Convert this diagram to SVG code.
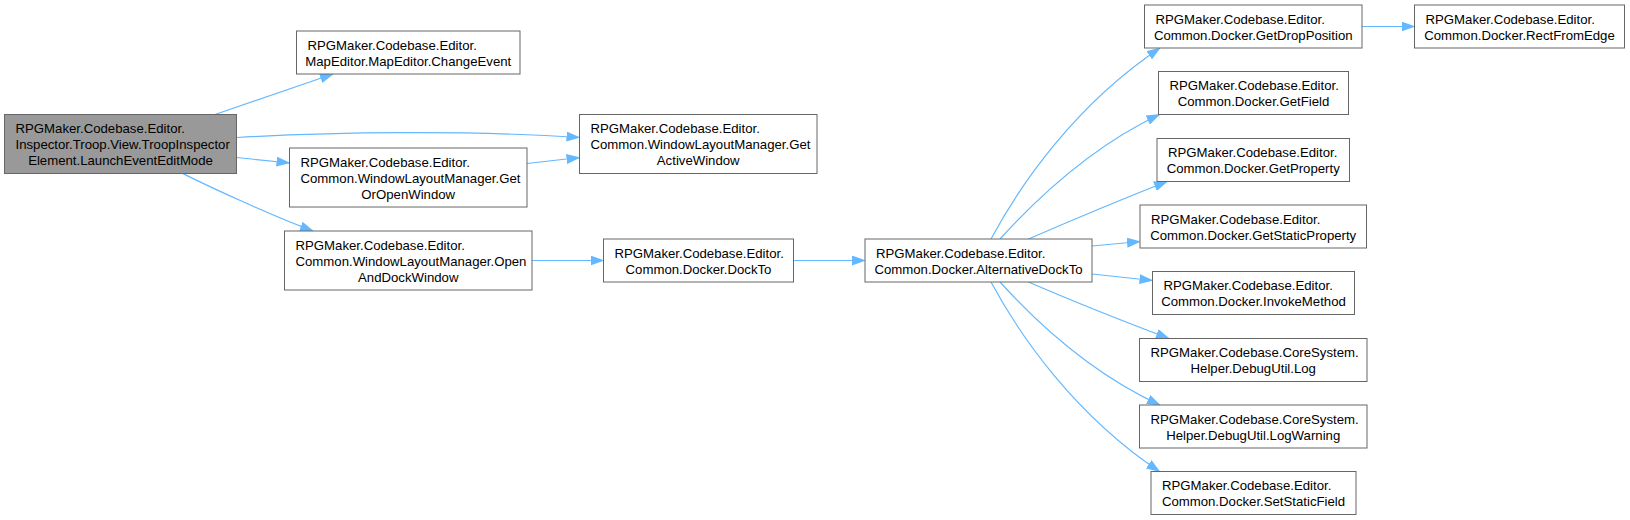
<svg xmlns="http://www.w3.org/2000/svg" width="1630" height="520" viewBox="0 0 1630 520">
<style>
.box{fill:#ffffff;stroke:#666666;stroke-width:1}
.main{fill:#999999;stroke:#666666;stroke-width:1}
text{font-family:"Liberation Sans",Arial,sans-serif;font-size:13.2px;fill:#000000}
.c{text-anchor:middle}
.e{fill:none;stroke:#63b8ff;stroke-width:1.2;marker-end:url(#ah)}
</style>
<defs>
<marker id="ah" markerWidth="14" markerHeight="10" refX="13" refY="5" orient="auto" markerUnits="userSpaceOnUse" viewBox="0 0 14 10">
<path d="M0,0 L14,5 L0,10 z" fill="#63b8ff"/>
</marker>
</defs>
<rect width="1630" height="520" fill="#ffffff"/>
<g id="connectors">
<path class="e" d="M215,114.5 L333,74"/>
<path class="e" d="M237,137.5 C330,132 470,130 579.5,137.5"/>
<path class="e" d="M237,157.5 L289.5,163"/>
<path class="e" d="M527,163.5 L579.5,157.5"/>
<path class="e" d="M183,173.6 C210,187 270,215 313,231"/>
<path class="e" d="M532,260.5 L603.5,260.5"/>
<path class="e" d="M793.5,260.5 L865,260.5"/>
<path class="e" d="M1362,26.5 L1414.5,26.5"/>
<path class="e" d="M991,239 C1020,185 1075,105 1160,48"/>
<path class="e" d="M1000,239 C1040,195 1095,145 1159.5,114.5"/>
<path class="e" d="M1028.5,239 C1070,221 1120,200 1167,181.5"/>
<path class="e" d="M1092,246 L1140,241.5"/>
<path class="e" d="M1092,274 L1152.5,280.5"/>
<path class="e" d="M1028.5,282 C1070,300 1120,320 1169,338.5"/>
<path class="e" d="M1000,282 C1040,326 1095,375 1160,405"/>
<path class="e" d="M991,282 C1020,336 1075,415 1159.5,471.5"/>
</g>
<g id="n1">
<rect class="main" x="4.5" y="114.5" width="232" height="59"/>
<text x="15.5" y="133">RPGMaker.Codebase.Editor.</text>
<text x="15.5" y="149">Inspector.Troop.View.TroopInspector</text>
<text class="c" x="120.5" y="165">Element.LaunchEventEditMode</text>
</g>
<g id="n2">
<rect class="box" x="296.5" y="31" width="223.5" height="43"/>
<text x="307.5" y="49.5">RPGMaker.Codebase.Editor.</text>
<text class="c" x="408.25" y="65.5">MapEditor.MapEditor.ChangeEvent</text>
</g>
<g id="n3">
<rect class="box" x="579.5" y="114.5" width="237.5" height="59"/>
<text x="590.5" y="133">RPGMaker.Codebase.Editor.</text>
<text x="590.5" y="149">Common.WindowLayoutManager.Get</text>
<text class="c" x="698.25" y="165">ActiveWindow</text>
</g>
<g id="n4">
<rect class="box" x="289.5" y="148" width="237.5" height="59"/>
<text x="300.5" y="166.5">RPGMaker.Codebase.Editor.</text>
<text x="300.5" y="182.5">Common.WindowLayoutManager.Get</text>
<text class="c" x="408.25" y="198.5">OrOpenWindow</text>
</g>
<g id="n5">
<rect class="box" x="284.5" y="231" width="247.5" height="59"/>
<text x="295.5" y="249.5">RPGMaker.Codebase.Editor.</text>
<text x="295.5" y="265.5">Common.WindowLayoutManager.Open</text>
<text class="c" x="408.25" y="281.5">AndDockWindow</text>
</g>
<g id="n6">
<rect class="box" x="603.5" y="239" width="190" height="43"/>
<text x="614.5" y="257.5">RPGMaker.Codebase.Editor.</text>
<text class="c" x="698.5" y="273.5">Common.Docker.DockTo</text>
</g>
<g id="n7">
<rect class="box" x="865" y="239" width="227" height="43"/>
<text x="876" y="257.5">RPGMaker.Codebase.Editor.</text>
<text class="c" x="978.5" y="273.5">Common.Docker.AlternativeDockTo</text>
</g>
<g id="n8">
<rect class="box" x="1144.5" y="5" width="217.5" height="43"/>
<text x="1155.5" y="23.5">RPGMaker.Codebase.Editor.</text>
<text class="c" x="1253.25" y="39.5">Common.Docker.GetDropPosition</text>
</g>
<g id="n9">
<rect class="box" x="1414.5" y="5" width="210" height="43"/>
<text x="1425.5" y="23.5">RPGMaker.Codebase.Editor.</text>
<text class="c" x="1519.5" y="39.5">Common.Docker.RectFromEdge</text>
</g>
<g id="n10">
<rect class="box" x="1158.5" y="71.5" width="190" height="43"/>
<text x="1169.5" y="90">RPGMaker.Codebase.Editor.</text>
<text class="c" x="1253.5" y="106">Common.Docker.GetField</text>
</g>
<g id="n11">
<rect class="box" x="1157" y="138.5" width="192.5" height="43"/>
<text x="1168" y="157">RPGMaker.Codebase.Editor.</text>
<text class="c" x="1253.25" y="173">Common.Docker.GetProperty</text>
</g>
<g id="n12">
<rect class="box" x="1140" y="205" width="226.5" height="43"/>
<text x="1151" y="223.5">RPGMaker.Codebase.Editor.</text>
<text class="c" x="1253.25" y="239.5">Common.Docker.GetStaticProperty</text>
</g>
<g id="n13">
<rect class="box" x="1152.5" y="271.5" width="202" height="43"/>
<text x="1163.5" y="290">RPGMaker.Codebase.Editor.</text>
<text class="c" x="1253.5" y="306">Common.Docker.InvokeMethod</text>
</g>
<g id="n14">
<rect class="box" x="1139.5" y="338.5" width="227.5" height="43"/>
<text x="1150.5" y="357">RPGMaker.Codebase.CoreSystem.</text>
<text class="c" x="1253.25" y="373">Helper.DebugUtil.Log</text>
</g>
<g id="n15">
<rect class="box" x="1139.5" y="405" width="227.5" height="43"/>
<text x="1150.5" y="423.5">RPGMaker.Codebase.CoreSystem.</text>
<text class="c" x="1253.25" y="439.5">Helper.DebugUtil.LogWarning</text>
</g>
<g id="n16">
<rect class="box" x="1151" y="471.5" width="205" height="43"/>
<text x="1162" y="490">RPGMaker.Codebase.Editor.</text>
<text class="c" x="1253.5" y="506">Common.Docker.SetStaticField</text>
</g>
</svg>
